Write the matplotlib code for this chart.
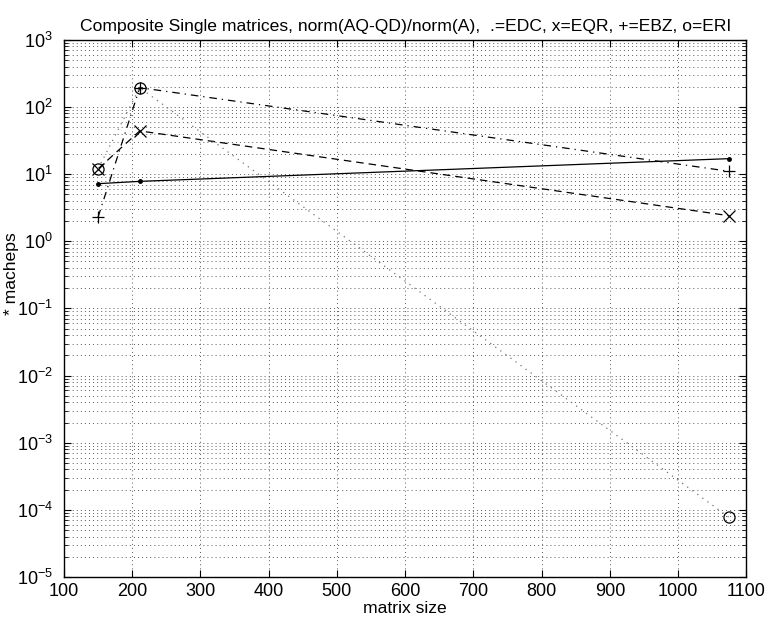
import matplotlib
matplotlib.use("Agg")
import matplotlib.pyplot as plt
from matplotlib.ticker import LogLocator, FixedLocator, NullFormatter

plt.rcParams['font.family'] = ['Liberation Sans', 'DejaVu Sans']
plt.rcParams['mathtext.fontset'] = 'custom'
plt.rcParams['mathtext.rm'] = 'Liberation Sans'
plt.rcParams['mathtext.it'] = 'Liberation Sans'
plt.rcParams['mathtext.default'] = 'regular'

# matrix sizes and scaled residuals for each eigensolver
sizes = [150, 211, 1075]
edc = [7.2, 7.8, 17.0]
eqr = [12.0, 44.0, 2.4]
ebz = [2.3, 194.0, 11.0]
eri = [12.0, 194.0, 7.7e-5]

xticks = [100, 200, 300, 400, 500, 600, 700, 800, 900, 1000, 1100]
yexps = [-5, -4, -3, -2, -1, 0, 1, 2, 3]

fig = plt.figure(figsize=(7.71, 6.22), dpi=100)
ax = fig.add_axes([0.083, 0.0723, 0.885, 0.8637])

ax.plot(sizes, edc, 'k.-', lw=0.9, ms=5)
ax.plot(sizes, eqr, 'kx--', lw=0.9, ms=8, mew=0.9, dashes=(6, 4))
ax.plot(sizes, ebz, 'k+-.', lw=0.9, ms=9, mew=0.9, dashes=(6, 4, 1, 4))
ax.plot(sizes, eri, ':', lw=0.9, dashes=(1, 4), color='0.45')
ax.plot(sizes, eri, 'o', ms=8, mfc='none', mec='k', mew=0.9)

ax.set_yscale('log')
ax.set_xlim(100, 1100)
ax.set_ylim(1e-5, 1e3)
ax.xaxis.set_major_locator(FixedLocator(xticks))
ax.set_xticklabels([str(t) for t in xticks])
ax.yaxis.set_major_locator(FixedLocator([10.0 ** e for e in yexps]))
ax.set_yticklabels([f'$10^{{{e}}}$' for e in yexps])
ax.yaxis.set_minor_locator(LogLocator(base=10, subs=range(2, 10), numticks=100))
ax.yaxis.set_minor_formatter(NullFormatter())

grid_style = dict(color='0.35', linestyle=(0, (1, 3.2)), lw=0.7)
ax.grid(True, which='major', axis='both', **grid_style)
ax.grid(True, which='minor', axis='y', **grid_style)

ax.tick_params(which='both', direction='in', top=True, right=True, labelsize=13)
ax.tick_params(axis='x', which='major', length=5, pad=4)
ax.tick_params(axis='y', which='major', length=5, pad=8)
ax.tick_params(which='minor', length=3)
for s in ax.spines.values():
    s.set_linewidth(1.0)

ax.set_title('Composite Single matrices, norm(AQ-QD)/norm(A),  .=EDC, x=EQR, +=EBZ, o=ERI',
             fontsize=12.6, pad=6)
ax.set_xlabel('matrix size', fontsize=12.6)
ax.xaxis.set_label_coords(0.5, -0.044)
ax.set_ylabel('* macheps', fontsize=12.6)
ax.yaxis.set_label_coords(-0.066, 0.565)

fig.savefig('out.png', dpi=100)
